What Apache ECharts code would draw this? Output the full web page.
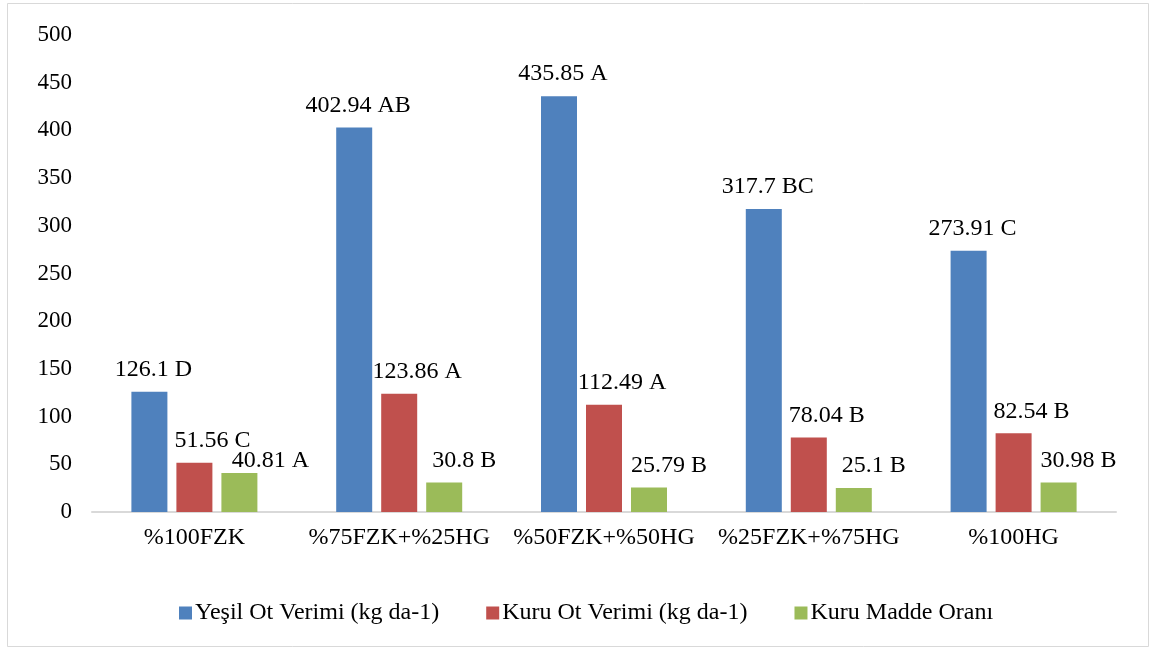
<!DOCTYPE html>
<html>
<head>
<meta charset="utf-8">
<script src="https://cdn.jsdelivr.net/npm/echarts@6/dist/echarts.min.js"></script>
<style>
  html, body { margin: 0; padding: 0; background: #fff; }
  #chart { width: 1155px; height: 650px; }
</style>
</head>
<body>
<div id="chart"></div>
<script>
// Treatments (fertiliser mix) on the x axis
const categories = ['%100FZK', '%75FZK+%25HG', '%50FZK+%50HG', '%25FZK+%75HG', '%100HG'];

// Series names
const seriesNames = ['Yeşil Ot Verimi (kg da-1)', 'Kuru Ot Verimi (kg da-1)', 'Kuru Madde Oranı'];

// Measured values
const greenYield = [126.1, 402.94, 435.85, 317.7, 273.91];
const dryYield = [51.56, 123.86, 112.49, 78.04, 82.54];
const dryMatter = [40.81, 30.8, 25.79, 25.1, 30.98];

// Significance groups shown after each value
const greenYieldGroups = ['D', 'AB', 'A', 'BC', 'C'];
const dryYieldGroups = ['C', 'A', 'A', 'B', 'B'];
const dryMatterGroups = ['A', 'B', 'B', 'B', 'B'];

// Y axis range
const yMin = 0;
const yMax = 500;
const yStep = 50;

const colors = ['#4f81bd', '#c0504d', '#9bbb59'];
const serif = '"Liberation Serif", "Times New Roman", serif';

function makeSeries(idx, values, groups, offsetX, labelLayout) {
  const s = {
    name: seriesNames[idx],
    type: 'bar',
    barWidth: 36,
    barGap: '25%',
    data: values,
    itemStyle: { color: colors[idx] },
    label: {
      show: true,
      position: 'top',
      distance: 10,
      offset: [offsetX, 0],
      color: '#000',
      fontFamily: serif,
      fontSize: 24,
      formatter: p => values[p.dataIndex] + ' ' + groups[p.dataIndex]
    }
  };
  if (labelLayout) s.labelLayout = labelLayout;
  return s;
}

// Dry-matter labels sit to the right of their bars; the first one also drops
// lower so it clears the neighbouring dry-yield label.
function dryMatterLabelLayout(params) {
  return params.dataIndex === 0 ? { dx: 31, dy: 10 } : { dx: 20 };
}

const chart = echarts.init(document.getElementById('chart'), null, { renderer: 'canvas' });

chart.setOption({
  animation: false,
  backgroundColor: '#fff',
  textStyle: { fontFamily: serif },
  graphic: [{
    type: 'rect',
    shape: { x: 7.5, y: 3.5, width: 1141, height: 643 },
    style: { fill: 'none', stroke: '#d9d9d9', lineWidth: 1 },
    silent: true,
    z: -1
  }],
  grid: { left: 92, right: 39, top: 35, bottom: 138, containLabel: false },
  legend: {
    top: 596,
    left: 174,
    itemWidth: 13,
    itemHeight: 13,
    itemGap: 47,
    icon: 'rect',
    textStyle: { fontFamily: serif, fontSize: 24, color: '#000', padding: [0, 0, 0, -2] },
    data: seriesNames
  },
  xAxis: {
    type: 'category',
    data: categories,
    axisLine: { show: true, lineStyle: { color: '#d9d9d9', width: 2 } },
    axisTick: { show: false },
    axisLabel: { color: '#000', fontFamily: serif, fontSize: 24, margin: 14, interval: 0 }
  },
  yAxis: {
    type: 'value',
    min: yMin,
    max: yMax,
    interval: yStep,
    axisLine: { show: false },
    axisTick: { show: false },
    splitLine: { show: false },
    axisLabel: { color: '#000', fontFamily: serif, fontSize: 23, margin: 20 }
  },
  series: [
    makeSeries(0, greenYield, greenYieldGroups, 4),
    makeSeries(1, dryYield, dryYieldGroups, 18),
    makeSeries(2, dryMatter, dryMatterGroups, 0, dryMatterLabelLayout)
  ]
});
</script>
</body>
</html>
